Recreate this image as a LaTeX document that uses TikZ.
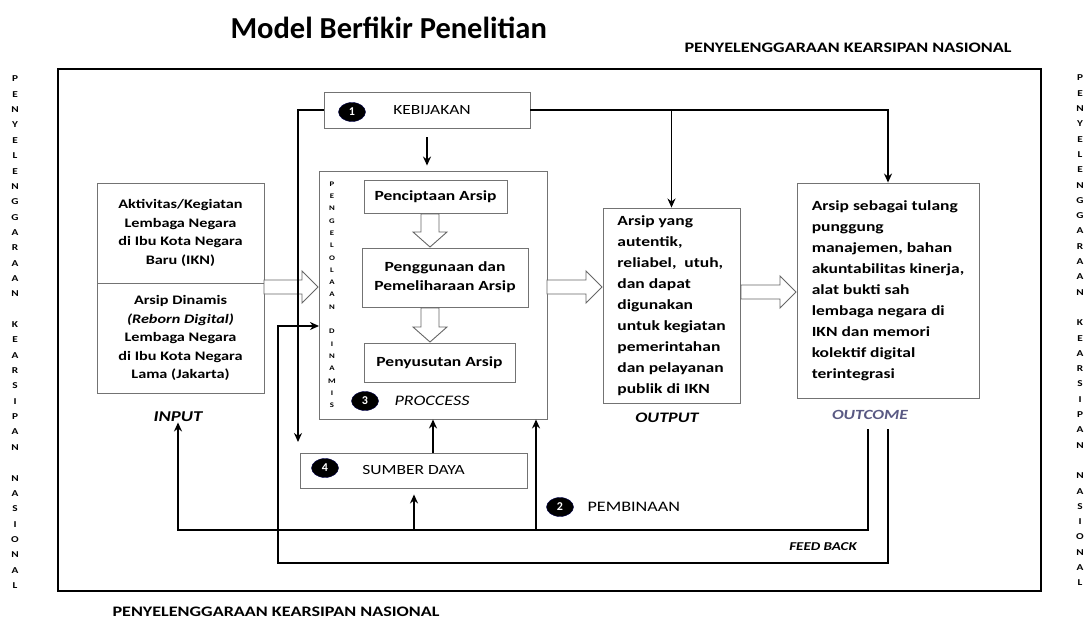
\documentclass[tikz,border=0pt]{standalone}
\usepackage{fontspec}
\setmainfont{Carlito}
\newfontfamily\widefont{Carlito}[FakeStretch=1.25]
\usetikzlibrary{shapes.geometric,arrows.meta,positioning,calc}

% hollow block arrows: from, to, position
\newcommand{\hollowright}[3]{%
  \draw[hollow] (#1,{#3-7}) -- ({#2-16},{#3-7}) -- ({#2-16},{#3-16}) -- (#2,#3)
    -- ({#2-16},{#3+16}) -- ({#2-16},{#3+7}) -- (#1,{#3+7}) -- cycle;}
\newcommand{\hollowdown}[3]{%
  \draw[hollow] ({#3-9},#1) -- ({#3-9},{#2-15}) -- ({#3-17},{#2-15}) -- (#3,#2)
    -- ({#3+17},{#2-15}) -- ({#3+9},{#2-15}) -- ({#3+9},#1) -- cycle;}

\begin{document}
\begin{tikzpicture}[
  x=1pt, y=-1pt,
  box/.style={draw=black!55, line width=0.9pt, inner sep=0pt, fill=white},
  conn/.style={-{Stealth[length=9pt,width=8pt]}, line width=1.6pt},
  hollow/.style={draw=black!60, line width=0.9pt, fill=white},
  badge/.style={ellipse, fill=black, draw=blue!30!black, text=white, inner sep=0pt,
    minimum width=27pt, minimum height=19pt, font=\bfseries\fontsize{12}{12}\selectfont},
  vlet/.style={font=\widefont\bfseries\fontsize{9}{9}\selectfont},
  vlettiny/.style={font=\widefont\bfseries\fontsize{7}{7}\selectfont},
  lbl/.style={font=\widefont\bfseries\itshape\fontsize{14.5}{14.5}\selectfont}
]
  \useasboundingbox (0,0) rectangle (1089,624);

  % Title and frame labels
  \node[anchor=west, font=\bfseries\fontsize{30.5}{30.5}\selectfont] (title) at (227,28) {Model Berfikir Penelitian};
  \node[anchor=east, font=\widefont\bfseries\fontsize{14.5}{14.5}\selectfont] (toplbl) at (1015,48) {PENYELENGGARAAN KEARSIPAN NASIONAL};
  \node[anchor=west, font=\widefont\bfseries\fontsize{14.5}{14.5}\selectfont] (botlbl) at (109,612) {PENYELENGGARAAN KEARSIPAN NASIONAL};
  \draw[line width=2.6pt] (58,69) rectangle (1041,591);

  % vertical labels on both sides
  \foreach \ch [count=\i] in {P,E,N,Y,E,L,E,N,G,G,A,R,A,A,N,{},K,E,A,R,S,I,P,A,N,{},N,A,S,I,O,N,A,L} {
    \node[vlet] at (15,{79+(\i-1)*15.35}) {\ch};
    \node[vlet] at (1080,{78+(\i-1)*15.3}) {\ch};
  }

  % INPUT
  \node[box, minimum width=167pt, minimum height=100pt, align=center,
    font=\widefont\bfseries\fontsize{13}{18.5}\selectfont] (inputtop) at (180.5,233)
    {Aktivitas/Kegiatan\\Lembaga Negara\\di Ibu Kota Negara\\Baru (IKN)};
  \node[box, minimum width=167pt, minimum height=110pt, align=center,
    font=\widefont\bfseries\fontsize{13}{18.5}\selectfont] (inputbot) at (180.5,338)
    {Arsip Dinamis\\\textit{(Reborn Digital)}\\Lembaga Negara\\di Ibu Kota Negara\\Lama (Jakarta)};
  \node[lbl, font=\widefont\bfseries\itshape\fontsize{15}{15}\selectfont] (inputlbl) at (178,417) {INPUT};

  % KEBIJAKAN
  \node[box, minimum width=206pt, minimum height=36pt, font=\widefont\fontsize{14}{14}\selectfont] (kebijakan) at (427,110) {\hspace{10pt}KEBIJAKAN};
  \node[badge] (b1) at (352,112) {1};

  % PROCESS
  \node[box, minimum width=228pt, minimum height=248pt] (process) at (433,295) {};
  \foreach \ch [count=\i] in {P,E,N,G,E,L,O,L,A,A,N,{},D,I,N,A,M,I,S}
    \node[vlettiny] at (332,{184+(\i-1)*12.3}) {\ch};
  \node[box, minimum width=143pt, minimum height=33pt, font=\widefont\bfseries\fontsize{14}{14}\selectfont] (cipta) at (435.5,196.5) {Penciptaan Arsip};
  \node[box, minimum width=166pt, minimum height=59pt, align=center,
    font=\widefont\bfseries\fontsize{14}{19}\selectfont] (guna) at (445,277.5) {Penggunaan dan\\Pemeliharaan Arsip};
  \node[box, minimum width=151pt, minimum height=39pt, font=\widefont\bfseries\fontsize{14}{14}\selectfont] (susut) at (439.5,362.5) {Penyusutan Arsip};
  \node[badge] (b3) at (365,401) {3};
  \node[font=\widefont\itshape\fontsize{14.5}{14.5}\selectfont] (proclbl) at (432,401) {PROCCESS};
  \hollowdown{214}{247}{430}
  \hollowdown{308}{342}{430}

  % OUTPUT
  \node[box, minimum width=137pt, minimum height=195pt, align=left,
    font=\widefont\bfseries\fontsize{14}{21}\selectfont] (output) at (671.5,305.5)
    {Arsip yang\\autentik,\\reliabel,~ utuh,\\dan dapat\\digunakan\\untuk kegiatan\\pemerintahan\\dan pelayanan\\publik di IKN};
  \node[lbl] (outputlbl) at (667,418) {OUTPUT};

  % OUTCOME
  \node[box, minimum width=182pt, minimum height=215pt, align=left,
    font=\widefont\bfseries\fontsize{14}{21}\selectfont] (outcome) at (888,290.5)
    {Arsip sebagai tulang\\punggung\\manajemen, bahan\\akuntabilitas kinerja,\\alat bukti sah\\lembaga negara di\\IKN dan memori\\kolektif digital\\terintegrasi};
  \node[lbl, font=\widefont\bfseries\itshape\fontsize{14}{14}\selectfont, text=blue!25!black!65] (outcomelbl) at (870,415) {OUTCOME};

  % block arrows between stages
  \hollowright{264}{318}{287}
  \hollowright{547}{602}{287}
  \hollowright{741}{796}{292}

  % SUMBER DAYA and PEMBINAAN
  \node[box, minimum width=227pt, minimum height=35pt, font=\widefont\fontsize{14}{14}\selectfont] (sumber) at (413.5,470.5) {SUMBER DAYA};
  \node[badge] (b4) at (325,468) {4};
  \node[badge] (b2) at (560,507) {2};
  \node[anchor=west, font=\widefont\fontsize{14.5}{14.5}\selectfont] (pembinaan) at (584,507) {PEMBINAAN};
  \node[font=\widefont\bfseries\itshape\fontsize{12}{12}\selectfont] (fblbl) at (823,547) {FEED BACK};

  % connectors from KEBIJAKAN
  \coordinate (kbdown) at (298,442);
  \draw[conn] (kebijakan.west) -| (kbdown);
  \draw[conn] (kebijakan.east) -| (outcome.north);
  \draw[conn] (kebijakan.east -| output.north) -- (output.north);
  \draw[conn, shorten <=9pt, shorten >=5pt] (kebijakan.south) -- (kebijakan.south |- process.north);
  \draw[conn] ([xshift=19.5pt]sumber.north) -- ([xshift=19.5pt]sumber.north |- process.south);

  % feed back loops
  \coordinate (fbAstart) at (868,429);
  \coordinate (fbAcorner) at (178,530);
  \coordinate (fbBstart) at (888,429);
  \coordinate (fbBcorner) at (278,563);
  \coordinate (pmbin) at (319,326);
  \coordinate (sdbase) at (414,530);
  \coordinate (pcbase) at (536,530);
  \draw[conn] (fbAstart) |- (fbAcorner) -- ([yshift=3pt]inputlbl.south);
  \draw[conn] (fbBstart) |- (fbBcorner) |- (pmbin);
  \draw[conn, shorten >=6pt] (sdbase) -- (sdbase |- sumber.south);
  \draw[conn] (pcbase) -- (pcbase |- process.south);

\end{tikzpicture}
\end{document}
